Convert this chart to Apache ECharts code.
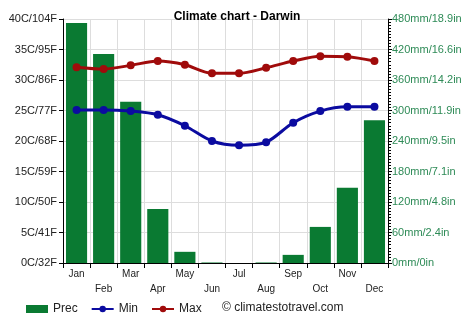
<!DOCTYPE html>
<html><head><meta charset="utf-8">
<script src="https://cdn.jsdelivr.net/npm/echarts@6/dist/echarts.min.js"></script>
<style>html,body{margin:0;padding:0;background:#fff}#c{width:474px;height:331px}</style>
</head><body><div id="c"></div>
<script>
var months = ['Jan','Feb','Mar','Apr','May','Jun','Jul','Aug','Sep','Oct','Nov','Dec'];
var prec = [472, 411, 317, 106, 22, 1, 0, 1, 16, 71, 148, 281];
var tmin = [25.1, 25.1, 24.9, 24.3, 22.5, 20.0, 19.3, 19.8, 23.0, 24.9, 25.6, 25.6];
var tmax = [32.1, 31.8, 32.4, 33.1, 32.5, 31.1, 31.1, 32.0, 33.1, 33.9, 33.8, 33.1];
var tempLabels = {0:'0C/32F',5:'5C/41F',10:'10C/50F',15:'15C/59F',20:'20C/68F',25:'25C/77F',30:'30C/86F',35:'35C/95F',40:'40C/104F'};
var precLabels = {0:'0mm/0in',60:'60mm/2.4in',120:'120mm/4.8in',180:'180mm/7.1in',240:'240mm/9.5in',300:'300mm/11.9in',360:'360mm/14.2in',420:'420mm/16.6in',480:'480mm/18.9in'};
var FONT = 'Liberation Sans';
var chart = echarts.init(document.getElementById('c'));
chart.setOption({
  animation: false,
  textStyle: {fontFamily: FONT},
  title: {text: 'Climate chart - Darwin', left: 'center', top: 6, textStyle: {fontSize: 12, fontWeight: 'bold', color: '#000', fontFamily: FONT}},
  grid: {left: 63, right: 86, top: 19, bottom: 68},
  legend: {left: 21, top: 298, itemWidth: 22, itemHeight: 8, itemGap: 13,
    textStyle: {fontSize: 12, color: '#222', fontFamily: FONT},
    data: [{name: 'Prec', icon: 'rect'}, {name: 'Min'}, {name: 'Max'}]},
  graphic: [{type: 'text', left: 222, top: 302, style: {text: '© climatestotravel.com', fontSize: 12, fill: '#222', fontFamily: FONT}}],
  xAxis: {type: 'category', data: months,
    axisLine: {lineStyle: {color: '#000'}},
    axisTick: {show: true, alignWithLabel: false, lineStyle: {color: '#000'}},
    axisLabel: {interval: 0, fontSize: 10, color: '#222', lineHeight: 15, margin: 4,
      formatter: function (v, i) { return i % 2 ? '\n' + v : v; }},
    splitLine: {show: true, lineStyle: {color: '#ddd'}}},
  yAxis: [
    {type: 'value', min: 0, max: 40, interval: 5,
     axisLine: {show: true, lineStyle: {color: '#000'}},
     axisTick: {show: true, length: 4, lineStyle: {color: '#000'}},
     axisLabel: {fontSize: 11, color: '#222', margin: 6, formatter: function (v) { return tempLabels[v]; }},
     splitLine: {lineStyle: {color: '#ddd'}}},
    {type: 'value', min: 0, max: 480, interval: 60,
     axisLine: {show: true, lineStyle: {color: '#000'}},
     axisTick: {show: true, length: 4, lineStyle: {color: '#000'}},
     minorTick: {show: true, splitNumber: 10, length: 3, lineStyle: {color: '#000'}},
     axisLabel: {fontSize: 11, color: '#2e8b57', margin: 4, formatter: function (v) { return precLabels[v]; }},
     splitLine: {show: false}}
  ],
  series: [
    {name: 'Prec', type: 'bar', yAxisIndex: 1, data: prec, barCategoryGap: '22%',
     itemStyle: {color: '#0a7a32'}},
    {name: 'Min', type: 'line', yAxisIndex: 0, data: tmin, symbol: 'circle', symbolSize: 8, smooth: 0.3,
     lineStyle: {color: '#0b0ba0', width: 3}, itemStyle: {color: '#0b0ba0'}},
    {name: 'Max', type: 'line', yAxisIndex: 0, data: tmax, symbol: 'circle', symbolSize: 8, smooth: 0.3,
     lineStyle: {color: '#a00b0b', width: 3}, itemStyle: {color: '#a00b0b'}}
  ]
});
</script></body></html>
